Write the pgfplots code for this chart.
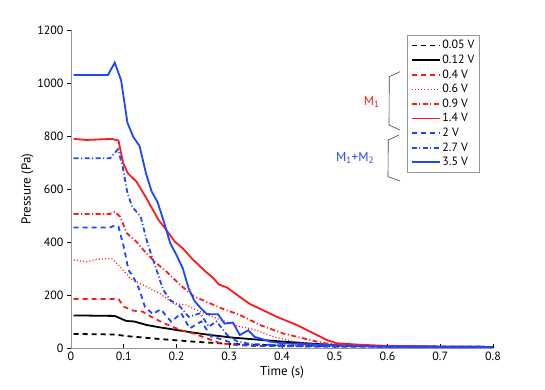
\documentclass[border=0pt]{standalone}
\usepackage{pgfplots}
\pgfplotsset{compat=1.18}
\usepackage{fontspec}
\setmainfont{PT Sans}
\definecolor{rd}{RGB}{255,25,25}
\definecolor{bl}{RGB}{30,70,255}
\definecolor{axgray}{RGB}{150,150,150}
\tikzset{
  s005/.style={black,line width=1.8bp,dash pattern=on 5bp off 4bp},
  s012/.style={black,line width=1.8bp},
  s04/.style={rd,line width=1.8bp,dash pattern=on 5bp off 4bp},
  s06/.style={rd,line width=1.3bp,dash pattern=on 1bp off 2.2bp},
  s09/.style={rd,line width=1.8bp,dash pattern=on 5bp off 2.5bp on 1bp off 2.5bp},
  s14/.style={rd,line width=1.8bp},
  s2/.style={bl,line width=1.8bp,dash pattern=on 5bp off 4bp},
  s27/.style={bl,line width=1.8bp,dash pattern=on 5bp off 2.5bp on 1bp off 2.5bp},
  s35/.style={bl,line width=1.8bp},
}
\begin{document}
\begin{tikzpicture}
\useasboundingbox (-71bp,-42bp) rectangle (474bp,348bp);
\begin{axis}[scale only axis,width=422bp,height=318bp,anchor=south west,at={(0,0)},
  xmin=0,xmax=0.8,ymin=0,ymax=1200,
  axis x line*=bottom,axis y line*=left,
  axis line style={axgray,line width=0.8bp},
  xtick={0,0.1,...,0.8},ytick={0,200,...,1200},
  x tick label style={/pgf/number format/fixed},
  y tick label style={/pgf/number format/1000 sep={}},
  scaled x ticks=false,
  xtick align=inside,ytick align=outside,
  major tick length=4bp,tick style={black,line width=0.5bp},
  /pgf/number format/assume math mode=true,
  tick label style={font=\fontsize{12}{14}\selectfont},
  label style={font=\fontsize{13}{15}\selectfont},
  xlabel={Time (s)},ylabel={Pressure (Pa)},
  xlabel style={yshift=1bp},
  ylabel style={yshift=-3bp},
  legend cell align=left,
  legend style={at={(0.969,0.984)},anchor=north east,draw=axgray,line width=0.8bp,
    font=\fontsize{12}{13}\selectfont,row sep=0.6bp,inner xsep=3bp,inner ysep=3bp},
  legend image code/.code={\draw[#1] (0bp,0bp) -- (28bp,0bp);},
  clip=false]
\addplot[s005] coordinates {(0.005,53) (0.083,51) (0.105,45) (0.168,34) (0.232,24) (0.296,16) (0.35,12) (0.4,9) (0.5,6) (0.8,4)};
\addplot[s012] coordinates {(0.005,123) (0.083,121) (0.105,102) (0.12,100) (0.143,87) (0.168,78) (0.2,68) (0.232,58) (0.264,49) (0.307,39) (0.358,31) (0.402,24) (0.466,15) (0.52,9) (0.6,6) (0.8,4)};
\addplot[s04] coordinates {(0.005,185) (0.09,185) (0.1,156) (0.118,141) (0.136,137) (0.152,118) (0.177,93) (0.207,68) (0.232,55) (0.257,37) (0.283,18) (0.31,12) (0.35,8) (0.45,6) (0.8,4)};
\addplot[s06] coordinates {(0.005,332) (0.03,325) (0.05,335) (0.077,338) (0.093,307) (0.112,263) (0.13,244) (0.149,225) (0.168,206) (0.194,168) (0.219,162) (0.245,137) (0.283,106) (0.32,81) (0.339,74) (0.358,62) (0.383,43) (0.42,25) (0.47,12) (0.55,7) (0.8,4)};
\addplot[s09] coordinates {(0.005,506) (0.074,506) (0.083,514) (0.093,496) (0.106,433) (0.124,401) (0.143,357) (0.162,320) (0.181,288) (0.207,238) (0.232,196) (0.264,168) (0.29,146) (0.32,125) (0.339,106) (0.358,87) (0.402,55) (0.466,24) (0.49,15) (0.55,8) (0.65,5) (0.8,4)};
\addplot[s14] coordinates {(0.005,789) (0.03,785) (0.077,789) (0.09,783) (0.099,697) (0.108,659) (0.124,628) (0.143,565) (0.166,483) (0.176,458) (0.197,401) (0.212,376) (0.229,338) (0.252,294) (0.27,263) (0.28,240) (0.296,228) (0.315,200) (0.339,166) (0.352,154) (0.39,118) (0.428,87) (0.46,55) (0.485,30) (0.504,18) (0.55,12) (0.6,8) (0.7,5) (0.8,4)};
\addplot[s2] coordinates {(0.005,455) (0.074,455) (0.083,462) (0.09,458) (0.1,382) (0.109,294) (0.118,269) (0.13,219) (0.14,156) (0.155,128) (0.17,146) (0.19,99) (0.209,131) (0.225,74) (0.247,100) (0.266,43) (0.29,30) (0.315,12) (0.35,8) (0.45,6) (0.8,4)};
\addplot[s27] coordinates {(0.005,716) (0.074,716) (0.089,750) (0.098,684) (0.107,584) (0.116,533) (0.132,496) (0.145,395) (0.16,307) (0.175,219) (0.188,181) (0.207,156) (0.223,118) (0.245,131) (0.261,81) (0.276,100) (0.296,49) (0.315,25) (0.34,15) (0.4,10) (0.5,7) (0.8,4)};
\addplot[s35] coordinates {(0.005,1030) (0.07,1030) (0.083,1077) (0.095,1010) (0.107,850) (0.118,797) (0.13,762) (0.142,660) (0.153,590) (0.164,551) (0.176,477) (0.188,396) (0.2,351) (0.212,300) (0.223,225) (0.234,178) (0.246,150) (0.258,128) (0.279,127) (0.291,92) (0.307,96) (0.32,49) (0.336,67) (0.348,42) (0.36,35) (0.377,24) (0.4,18) (0.45,14) (0.5,10) (0.55,7) (0.6,5) (0.7,4) (0.8,4)};
\legend{0.05 V,0.12 V,0.4 V,0.6 V,0.9 V,1.4 V,2 V,2.7 V,3.5 V}
\end{axis}
% group brackets and labels (px -> bp: x-71, 348-y)
\draw[black!75,line width=0.6bp] (329bp,276.3bp) -- (318.3bp,271.3bp) -- (318bp,223bp) -- (329bp,218bp);
\draw[black!75,line width=0.6bp] (328bp,213bp) -- (317.3bp,208bp) -- (317bp,171.3bp) -- (329bp,167bp);
\node[rd,font=\fontsize{13}{15}\selectfont] at (300.7bp,246.3bp) {M\textsubscript{1}};
\node[bl,font=\fontsize{13}{15}\selectfont] at (284bp,190.3bp) {M\textsubscript{1}+M\textsubscript{2}};
\end{tikzpicture}
\end{document}
